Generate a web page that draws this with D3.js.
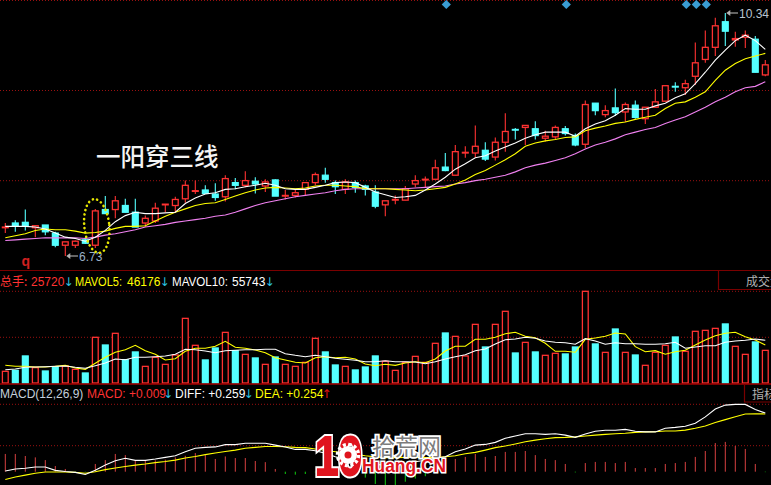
<!DOCTYPE html>
<html>
<head>
<meta charset="utf-8">
<script src="https://d3js.org/d3.v7.min.js"></script>
<style>
html, body { margin: 0; padding: 0; background: #000; overflow: hidden; }
svg { display: block; }
text { font-family: "Liberation Sans", Arial, sans-serif; }
.cjk { font-family: "Noto Sans CJK SC", sans-serif; }
.arrow { font-family: "DejaVu Sans", sans-serif; }
</style>
</head>
<body>
<div class="chart"></div>
<script>
// daily candles
var opens = [7.15,7.22,7.23,7.15,7.19,7.07,6.89,6.89,6.97,6.89,7.42,7.42,7.48,7.38,7.22,7.25,7.49,7.48,7.58,7.69,7.71,7.65,7.61,7.82,7.78,7.84,
  7.77,7.86,7.62,7.63,7.72,7.82,7.93,7.82,7.72,7.82,7.77,7.68,7.49,7.56,7.56,7.80,7.86,7.87,8.05,7.93,8.26,8.26,8.30,8.20,8.42,8.61,
  8.64,8.62,8.48,8.50,8.62,8.52,8.39,9.00,8.83,8.93,8.87,8.97,8.77,8.94,9.03,9.25,9.23,9.40,9.65,9.83,10.21,9.94,9.98,9.95,9.42];
var closes = [7.16,7.18,7.18,7.18,7.09,6.89,6.94,6.95,6.92,7.40,7.36,7.55,7.38,7.16,7.29,7.44,7.50,7.57,7.78,7.70,7.66,7.60,7.88,7.78,7.85,7.80,
  7.83,7.62,7.63,7.67,7.82,7.94,7.87,7.76,7.83,7.75,7.72,7.47,7.55,7.57,7.73,7.85,7.87,8.04,8.00,8.28,8.27,8.36,8.17,8.42,8.58,8.60,
  8.67,8.52,8.51,8.64,8.55,8.38,8.98,8.89,8.89,8.86,8.98,8.79,8.94,9.02,9.26,9.24,9.29,9.60,9.83,10.15,10.07,9.96,10.01,9.46,9.57];
var highs = [7.22,7.26,7.42,7.19,7.19,7.09,6.94,6.96,7.01,7.43,7.62,7.62,7.58,7.58,7.33,7.52,7.50,7.61,7.85,7.85,7.78,7.81,7.93,7.89,7.99,7.90,
  7.87,7.87,7.71,7.71,7.82,7.97,8.04,7.85,7.87,7.85,7.79,7.78,7.55,7.63,7.77,7.93,7.91,8.16,8.26,8.38,8.36,8.67,8.42,8.49,8.85,8.63,
  8.67,8.73,8.59,8.67,8.66,8.55,9.04,9.00,8.97,9.22,9.01,9.04,8.94,9.21,9.26,9.31,9.35,9.90,10.08,10.27,10.34,10.06,10.08,10.00,9.64];
var lows = [7.07,7.09,7.11,7.01,7.04,6.86,6.73,6.85,6.91,6.85,7.36,7.29,7.38,7.16,7.16,7.22,7.38,7.38,7.52,7.65,7.66,7.55,7.54,7.72,7.75,7.66,
  7.68,7.62,7.57,7.60,7.63,7.78,7.82,7.65,7.65,7.67,7.63,7.44,7.32,7.50,7.56,7.75,7.75,7.87,7.99,7.93,8.19,8.19,8.14,8.15,8.28,8.46,
  8.38,8.46,8.43,8.46,8.52,8.36,8.33,8.82,8.79,8.81,8.72,8.77,8.69,8.94,9.03,9.17,9.12,9.27,9.60,9.70,9.85,9.84,9.82,9.46,9.40];

// price moving averages
var ma5 = [7.17,7.17,7.17,7.16,7.13,7.07,7.01,6.99,6.95,7.01,7.11,7.24,7.33,7.38,7.36,7.36,7.37,7.38,7.51,7.59,7.65,7.67,7.72,7.73,7.76,7.78,
  7.81,7.78,7.73,7.72,7.72,7.75,7.78,7.82,7.83,7.82,7.75,7.68,7.64,7.60,7.61,7.63,7.71,7.80,7.90,8.02,8.10,8.19,8.22,8.29,8.35,8.41,
  8.48,8.53,8.57,8.57,8.57,8.51,8.62,8.69,8.74,8.82,8.92,8.91,8.91,8.96,9.00,9.08,9.14,9.29,9.46,9.64,9.79,9.93,10.01,9.93,9.80];
var ma10 = [7.00,7.03,7.06,7.11,7.13,7.12,7.12,7.10,7.07,7.08,7.10,7.14,7.17,7.17,7.18,7.25,7.32,7.38,7.43,7.48,7.51,7.52,7.57,7.62,7.67,7.71,
  7.74,7.75,7.74,7.73,7.74,7.77,7.78,7.78,7.77,7.76,7.73,7.73,7.73,7.72,7.71,7.70,7.71,7.73,7.75,7.80,7.86,7.94,8.00,8.08,8.16,8.25,
  8.36,8.41,8.44,8.46,8.49,8.50,8.59,8.63,8.66,8.70,8.72,8.76,8.79,8.82,8.92,9.00,9.02,9.09,9.17,9.34,9.49,9.59,9.66,9.70,9.74];
var ma30 = [6.96,6.97,6.98,6.99,7.00,7.00,7.00,7.00,6.99,7.01,7.04,7.06,7.09,7.12,7.16,7.18,7.20,7.23,7.25,7.27,7.29,7.32,7.34,7.38,7.43,7.48,
  7.52,7.55,7.58,7.61,7.63,7.65,7.67,7.70,7.72,7.73,7.73,7.73,7.73,7.73,7.73,7.74,7.75,7.76,7.77,7.80,7.82,7.85,7.87,7.90,7.93,7.98,
  8.04,8.08,8.11,8.15,8.19,8.25,8.32,8.38,8.42,8.47,8.53,8.57,8.61,8.64,8.70,8.75,8.80,8.87,8.94,9.02,9.09,9.17,9.23,9.25,9.32];

// volume in thousands of lots
var volumes = [14.6,15.8,33.8,19.2,15.0,20.4,21.3,17.1,12.5,57.1,47.5,62.1,29.2,38.8,20.8,32.1,23.3,35.0,80.8,47.1,28.8,43.8,63.3,40.4,35.8,31.3,
  23.3,32.5,23.3,20.8,25.8,55.8,38.8,22.5,20.8,16.3,20.0,33.8,27.1,15.8,25.8,33.3,25.8,49.6,62.5,58.3,33.8,73.3,45.0,73.3,89.6,37.5,
  50.8,38.8,34.6,37.1,36.3,45.0,114.6,48.8,38.3,67.5,38.3,35.0,22.1,38.3,47.1,57.5,39.6,64.6,65.8,68.3,73.8,45.8,35.8,51.3,40.8];
var mavol5 = [22.1,20.9,20.9,20,20,20.9,22.1,18.8,17.1,24.6,32.1,38.4,41.6,47.1,40.4,35.9,28.8,30.4,39.6,43.4,43.4,45.9,52.1,44.6,43.4,41.3,
  37.9,31.6,28.8,25.9,25,31.6,32.9,31.6,32.1,30,23.8,21.6,23.4,22.1,25,26.6,25.4,30,40,45.9,45.9,54.6,54.6,57.1,61.6,63.4,
  58.4,56.6,49.6,39.6,39.6,38.4,54.6,56.3,58.4,62.5,61.3,45.4,39.1,40.4,35.9,39.1,40.9,47.5,53.8,59.1,62.1,63.4,57.9,53.8,47.5];
var mavol10 = [16.6,17.5,19.6,20,20.4,20.9,21.3,19.6,18.4,21.6,25,30,29.1,32.1,32.1,32.9,33.8,35.9,42.1,41.6,40,37.9,40.4,40.9,41.6,41.6,
  42.1,42.1,36.6,34.6,32.9,34.6,32.9,30.9,29.6,28.4,26.6,26.6,27.9,26.6,26.6,26.3,24.1,26.6,30,32.9,35.4,40.4,42.5,48.8,54.1,55,
  57.1,55.9,52.5,50.9,50.4,48.4,55.4,52.5,48.4,50.4,49.1,49.1,48.4,48.4,49.1,50.9,43.4,45,46.6,46.6,50.9,52.5,53.4,55,53.4];

// MACD panel
var diff = [0.003,0.012,0.015,0.021,0.021,0.006,0.001,-0.003,-0.012,0.006,0.029,0.048,0.059,0.050,0.050,0.056,0.063,0.070,0.088,0.103,0.107,0.109,0.119,0.119,0.125,0.125,
  0.125,0.117,0.109,0.098,0.098,0.092,0.081,0.066,0.056,0.047,0.041,0.032,0.029,0.029,0.035,0.044,0.050,0.059,0.066,
  0.088,0.100,0.117,0.120,0.129,0.147,0.157,0.167,0.167,0.164,0.167,0.161,0.151,0.166,0.178,0.182,0.182,0.186,0.178,0.175,0.175,0.191,0.195,0.200,0.213,0.241,0.276,0.293,0.296,0.296,0.274,0.258];
var dea = [-0.034,-0.023,-0.015,-0.007,-0.001,-0.001,-0.001,-0.003,-0.007,0,0.009,0.016,0.023,0.029,0.034,0.040,0.045,0.051,0.060,0.067,0.075,0.082,0.089,0.095,0.103,0.107,
  0.111,0.111,0.110,0.107,0.106,0.100,0.094,0.088,0.081,0.076,0.070,0.065,0.062,0.062,0.063,0.063,0.062,0.062,0.066,
  0.070,0.079,0.085,0.095,0.106,0.113,0.122,0.132,0.139,0.145,0.150,0.151,0.153,0.157,0.161,0.164,0.167,0.169,0.173,0.175,0.176,0.179,0.179,0.183,0.191,0.201,0.216,0.229,0.242,0.254,0.255,0.254];
var macd = [0.078,0.078,0.069,0.063,0.051,0.025,0.012,-0.003,-0.002,0.034,0.051,0.078,0.073,0.047,0.047,0.050,0.053,0.063,0.070,0.082,0.073,0.056,0.067,0.060,0.060,0.047,
  0.042,0.012,-0.010,-0.013,-0.010,-0.003,-0.010,-0.015,-0.020,-0.018,-0.026,-0.054,-0.059,-0.059,-0.044,-0.030,-0.020,-0.004,0.010,
  0.056,0.065,0.078,0.065,0.069,0.087,0.087,0.091,0.073,0.056,0.051,0.034,-0.003,0.038,0.043,0.043,0.038,0.043,0.016,0.016,0.016,0.034,0.038,0.043,0.065,0.091,0.126,0.131,0.113,0.100,0.034,-0.002];

// flagged days (blue diamonds along the top)
var signalDays = [44, 56, 68, 69, 70];

var width = 771, height = 485;
var RED = "#ff3232", CYAN = "#54ffff", YELLOW = "#ffff00", PINK = "#f080f0", FRAME = "#7a0000", DOTS = "#9a1010";

var svg = d3.select(".chart").append("svg")
    .attr("width", width)
    .attr("height", height)
    .attr("style", "background: #000");

var days = d3.range(opens.length);

// shared x scale, one day every 10px
var xScale = d3.scaleLinear().domain([0, 76]).range([5.3, 765.3]);
var priceScale = d3.scaleLinear().domain([6.73, 10.34]).range([256, 13]);
var volScale = d3.scaleLinear().domain([0, 115]).range([383, 291]);
var macdScale = d3.scaleLinear().domain([0, 0.296]).range([471.7, 404.4]);

// dotted grid
[0.5, 90.5, 180.7, 291.3, 337.3, 404.3, 445.7].forEach(function(y) {
    svg.append("line")
        .attr("x1", 0).attr("x2", width)
        .attr("y1", y).attr("y2", y)
        .attr("stroke", DOTS)
        .attr("stroke-width", 1)
        .attr("stroke-dasharray", "1 2");
});

// ---- candles ----
var candle = svg.selectAll(".candle")
    .data(days)
    .enter().append("g")
    .attr("class", "candle");

candle.append("line")
    .attr("x1", function(d) { return xScale(d); })
    .attr("x2", function(d) { return xScale(d); })
    .attr("y1", function(d) { return priceScale(highs[d]); })
    .attr("y2", function(d) { return priceScale(lows[d]); })
    .attr("stroke", function(d) { return closes[d] >= opens[d] ? RED : CYAN; })
    .attr("stroke-width", 1.1);

candle.append("rect")
    .attr("x", function(d) { return xScale(d) - 2.9; })
    .attr("width", 5.8)
    .attr("y", function(d) { return priceScale(Math.max(opens[d], closes[d])); })
    .attr("height", function(d) { return Math.abs(priceScale(opens[d]) - priceScale(closes[d])); })
    .attr("fill", function(d) { return closes[d] >= opens[d] ? "#000" : CYAN; })
    .attr("stroke", function(d) { return closes[d] >= opens[d] ? RED : CYAN; })
    .attr("stroke-width", 1.3);

function drawLine(values, scale, color, w) {
    var line = d3.line()
        .x(function(d, i) { return xScale(i); })
        .y(function(d) { return scale(d); });
    svg.append("path")
        .attr("d", line(values))
        .attr("fill", "none")
        .attr("stroke", color)
        .attr("stroke-width", w);
}
drawLine(ma30, priceScale, PINK, 1.1);
drawLine(ma10, priceScale, YELLOW, 1.1);
drawLine(ma5, priceScale, "#fff", 1.1);

// signal diamonds
svg.selectAll(".signal")
    .data(signalDays)
    .enter().append("path")
    .attr("class", "signal")
    .attr("d", d3.symbol().type(d3.symbolDiamond2).size(54))
    .attr("transform", function(d) { return "translate(" + (xScale(d) + 1) + ",4.5)"; })
    .attr("fill", "#3a9cd2");

// high / low callouts
function callout(xTip, y, x2, label, color) {
    svg.append("line")
        .attr("x1", xTip + 2).attr("x2", x2)
        .attr("y1", y).attr("y2", y)
        .attr("stroke", "#b4b4b4").attr("stroke-width", 1.1);
    svg.append("path")
        .attr("d", "M" + xTip + "," + y + "l4,-3v6z")
        .attr("fill", "#b4b4b4");
    svg.append("text")
        .attr("x", x2 + 1)
        .attr("y", y + 4.5)
        .attr("font-size", 12)
        .attr("fill", color)
        .text(label);
}
callout(xScale(72) + 1, priceScale(10.34), 738, "10.34", "#b8c4d0");
callout(xScale(6) + 1, priceScale(6.73), 78, "6.73", "#9ab0c8");

// the setup day, ringed
svg.append("ellipse")
    .attr("cx", xScale(9) + 1.5)
    .attr("cy", 226)
    .attr("rx", 12.5)
    .attr("ry", 27)
    .attr("transform", "rotate(-6," + (xScale(9) + 1.5) + ",226)")
    .attr("fill", "none")
    .attr("stroke", "#e6e600")
    .attr("stroke-width", 2.6)
    .attr("stroke-linecap", "round")
    .attr("stroke-dasharray", "0.1 4.4");

svg.append("text")
    .attr("class", "cjk")
    .attr("x", 96)
    .attr("y", 166)
    .attr("font-size", 24.5)
    .attr("font-weight", 500)
    .attr("fill", "#f4f4f4")
    .text("一阳穿三线");

svg.append("text")
    .attr("x", 21.5)
    .attr("y", 266)
    .attr("font-size", 14)
    .attr("font-weight", "bold")
    .attr("fill", "#d02020")
    .text("q");

// ---- volume panel ----
svg.append("line")
    .attr("x1", 0).attr("x2", width)
    .attr("y1", 270.5).attr("y2", 270.5)
    .attr("stroke", FRAME);

svg.selectAll(".vol")
    .data(days)
    .enter().append("rect")
    .attr("class", "vol")
    .attr("x", function(d) { return xScale(d) - 2.9; })
    .attr("width", 5.8)
    .attr("y", function(d) { return volScale(volumes[d]); })
    .attr("height", function(d) { return volScale(0) - volScale(volumes[d]); })
    .attr("fill", function(d) { return closes[d] >= opens[d] ? "#000" : CYAN; })
    .attr("stroke", function(d) { return closes[d] >= opens[d] ? RED : CYAN; })
    .attr("stroke-width", 1.3);

drawLine(mavol5, volScale, YELLOW, 1.1);
drawLine(mavol10, volScale, "#fff", 1.1);

svg.append("line")
    .attr("x1", 0).attr("x2", width)
    .attr("y1", 384).attr("y2", 384)
    .attr("stroke", "#a00000")
    .attr("stroke-width", 1.6);

// ---- macd panel ----
svg.selectAll(".macd")
    .data(days)
    .enter().append("line")
    .attr("class", "macd")
    .attr("x1", function(d) { return xScale(d); })
    .attr("x2", function(d) { return xScale(d); })
    .attr("y1", macdScale(0))
    .attr("y2", function(d) { return macdScale(macd[d]); })
    .attr("stroke", function(d) { return macd[d] >= 0 ? "#d84040" : "#10d010"; })
    .attr("stroke-width", 1);

drawLine(dea, macdScale, YELLOW, 1.1);
drawLine(diff, macdScale, "#fff", 1.1);

// ---- legend rows ----
var ARROW = "#2ac0e0";
var volLegend = [
    {x: 0, t: "总手:", c: RED, cjk: true},
    {x: 31, t: "25720", c: RED},
    {x: 63.5, t: "↓", c: ARROW, a: true},
    {x: 75, t: "MAVOL5:", c: YELLOW, w: 47},
    {x: 127, t: "46176", c: YELLOW},
    {x: 159.5, t: "↓", c: ARROW, a: true},
    {x: 172, t: "MAVOL10:", c: "#fff", w: 56},
    {x: 232, t: "55743", c: "#fff"},
    {x: 264.5, t: "↓", c: ARROW, a: true}
];
var macdLegend = [
    {x: 0, t: "MACD(12,26,9)", c: "#c4d0dc"},
    {x: 87, t: "MACD: +0.009", c: RED},
    {x: 163, t: "↓", c: ARROW, a: true},
    {x: 175, t: "DIFF: +0.259", c: "#fff"},
    {x: 243.5, t: "↓", c: ARROW, a: true},
    {x: 255, t: "DEA: +0.254", c: YELLOW},
    {x: 321.5, t: "↑", c: "#e01010", a: true}
];
function legendRow(items, y) {
    svg.selectAll(null)
        .data(items)
        .enter().append("text")
        .attr("class", function(d) { return d.cjk ? "cjk" : (d.a ? "arrow" : null); })
        .attr("x", function(d) { return d.x; })
        .attr("y", y)
        .attr("font-size", 12)
        .attr("textLength", function(d) { return d.w ? d.w : null; })
        .attr("lengthAdjust", "spacingAndGlyphs")
        .attr("fill", function(d) { return d.c; })
        .text(function(d) { return d.t; });
}
legendRow(volLegend, 285.5);
legendRow(macdLegend, 398);

// right hand tab boxes
svg.append("path")
    .attr("d", "M718.5,271V289.5H771")
    .attr("fill", "none").attr("stroke", FRAME).attr("stroke-width", 1.2);
svg.append("text").attr("class", "cjk")
    .attr("x", 746).attr("y", 286).attr("font-size", 12).attr("fill", "#b0b0b0")
    .text("成交量");
svg.append("path")
    .attr("d", "M744.5,385V402H771")
    .attr("fill", "none").attr("stroke", FRAME).attr("stroke-width", 1.2);
svg.append("text").attr("class", "cjk")
    .attr("x", 752).attr("y", 399).attr("font-size", 12).attr("fill", "#b0b0b0")
    .text("指标");

// ---- watermark ----
var logo = svg.append("g").attr("class", "logo");
logo.append("text")
    .attr("x", 315).attr("y", 475)
    .attr("font-size", 56).attr("font-weight", "bold")
    .attr("textLength", 47)
    .attr("lengthAdjust", "spacingAndGlyphs")
    .attr("fill", "#fff").attr("stroke", "#fff").attr("stroke-width", 6)
    .text("10");
logo.append("text")
    .attr("x", 315).attr("y", 475)
    .attr("font-size", 56).attr("font-weight", "bold")
    .attr("textLength", 47)
    .attr("lengthAdjust", "spacingAndGlyphs")
    .attr("fill", "#e0141e").attr("stroke", "#e0141e").attr("stroke-width", 2)
    .text("10");
logo.append("circle")
    .attr("cx", 348).attr("cy", 455).attr("r", 10.5)
    .attr("fill", "none").attr("stroke", "#fff").attr("stroke-width", 3.5)
    .attr("stroke-dasharray", "3 2.5");
logo.append("circle")
    .attr("cx", 348).attr("cy", 455).attr("r", 9)
    .attr("fill", "#fff");
logo.append("circle")
    .attr("cx", 348).attr("cy", 455).attr("r", 3.5)
    .attr("fill", "#e0141e");
logo.append("text")
    .attr("class", "cjk")
    .attr("x", 372).attr("y", 455)
    .attr("font-size", 23)
    .attr("fill", "#7c7c7c").attr("stroke", "#fff").attr("stroke-width", 3.5)
    .attr("paint-order", "stroke")
    .text("拾荒网");
logo.append("text")
    .attr("x", 362).attr("y", 472)
    .attr("font-size", 18).attr("font-weight", "bold")
    .attr("textLength", 84)
    .attr("lengthAdjust", "spacingAndGlyphs")
    .attr("fill", "#e0141e").attr("stroke", "#fff").attr("stroke-width", 3)
    .attr("paint-order", "stroke")
    .text("Huang.CN");
</script>
</body>
</html>
